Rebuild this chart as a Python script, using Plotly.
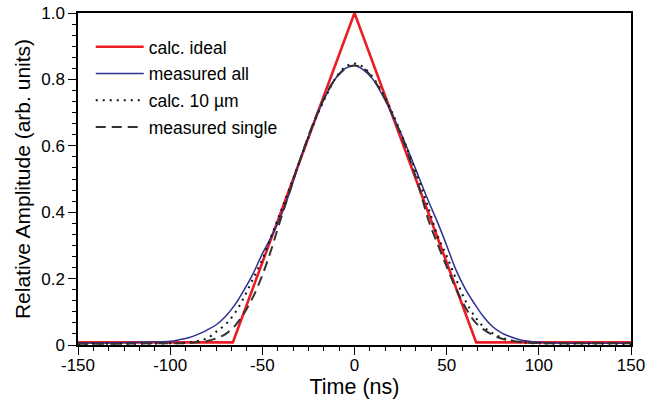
import plotly.graph_objects as go

# ---- data ----
t_ideal = [-150, -66, 0, 66, 150]
v_ideal = [0.008, 0.008, 1.0, 0.008, 0.008]

t_grid = [-150, -130, -110, -100, -95, -90, -85, -80, -75, -70, -65, -60, -55, -50,
          -45, -40, -35, -30, -25, -20, -15, -10, -5, 0, 5, 10, 15, 20, 25, 30, 35,
          40, 45, 50, 55, 60, 65, 70, 75, 80, 85, 90, 95, 100, 110, 130, 150]

v_meas_all = [0.006, 0.007, 0.009, 0.011, 0.016, 0.022, 0.032, 0.045, 0.061, 0.086,
              0.12, 0.165, 0.215, 0.275, 0.327, 0.387, 0.462, 0.551, 0.627, 0.698,
              0.757, 0.805, 0.833, 0.842, 0.828, 0.80, 0.754, 0.70, 0.64, 0.574,
              0.504, 0.435, 0.37, 0.30, 0.227, 0.17, 0.125, 0.085, 0.055, 0.036,
              0.024, 0.015, 0.011, 0.008, 0.006, 0.005, 0.005]

v_calc_10um = [0.003, 0.004, 0.004, 0.005, 0.006, 0.008, 0.012, 0.02, 0.04, 0.062,
               0.095, 0.143, 0.20, 0.258, 0.33, 0.402, 0.475, 0.55, 0.625, 0.695,
               0.755, 0.806, 0.838, 0.848, 0.836, 0.806, 0.762, 0.706, 0.641, 0.57,
               0.495, 0.415, 0.33, 0.268, 0.20, 0.135, 0.088, 0.055, 0.035, 0.022,
               0.014, 0.009, 0.006, 0.005, 0.004, 0.004, 0.003]

v_meas_single = [0.004, 0.004, 0.005, 0.005, 0.005, 0.006, 0.008, 0.012, 0.02, 0.033,
                 0.057, 0.095, 0.145, 0.21, 0.29, 0.38, 0.465, 0.55, 0.63, 0.70,
                 0.76, 0.805, 0.832, 0.842, 0.832, 0.802, 0.758, 0.70, 0.635, 0.56,
                 0.475, 0.378, 0.305, 0.236, 0.17, 0.115, 0.072, 0.047, 0.03, 0.019,
                 0.013, 0.009, 0.007, 0.006, 0.005, 0.005, 0.005]

x_tickvals = [-150, -100, -50, 0, 50, 100, 150]
x_ticktext = ["-150", "-100", "-50", "0", "50", "100", "150"]
y_tickvals = [0, 0.2, 0.4, 0.6, 0.8, 1.0]
y_ticktext = ["0", "0.2", "0.4", "0.6", "0.8", "1.0"]

FONT = "Liberation Sans, Arial, Helvetica, sans-serif"

fig = go.Figure()
fig.add_trace(go.Scatter(x=t_ideal, y=v_ideal, mode="lines", name="calc. ideal",
                         legendgroup="a",
                         line=dict(color="#ec1c24", width=2.6)))
fig.add_trace(go.Scatter(x=t_grid, y=v_meas_all, mode="lines", name="measured all",
                         legendgroup="b", line_shape="spline",
                         line=dict(color="#2e3192", width=1.5)))
fig.add_trace(go.Scatter(x=t_grid, y=v_calc_10um, mode="lines", name="calc. 10 µm",
                         legendgroup="c", line_shape="spline",
                         line=dict(color="#111111", width=2, dash="2px,5px")))
fig.add_trace(go.Scatter(x=t_grid, y=v_meas_single, mode="lines", name="measured single",
                         legendgroup="d", line_shape="spline",
                         line=dict(color="#333333", width=2, dash="10px,6px")))

axis_common = dict(
    showline=True, linecolor="black", linewidth=1.5, mirror=True, automargin=False,
    showgrid=False, zeroline=False, ticks="outside", ticklen=8, tickwidth=1.3,
    tickcolor="black", tickfont=dict(family=FONT, size=17, color="black"),
)

fig.update_xaxes(range=[-150, 150], tickmode="array", tickvals=x_tickvals,
                 ticktext=x_ticktext, ticklabelstandoff=-4,
                 minor=dict(dtick=50 / 6, ticks="outside", ticklen=4,
                            tickwidth=1.2, tickcolor="black"),
                 title=dict(text="Time (ns)", font=dict(family=FONT, size=21.5, color="black"),
                            standoff=3),
                 **axis_common)
fig.update_yaxes(range=[0, 1.0], tickmode="array", tickvals=y_tickvals,
                 ticktext=y_ticktext,
                 minor=dict(dtick=0.2 / 6, ticks="outside", ticklen=4,
                            tickwidth=1.2, tickcolor="black"),
                 title=dict(text="Relative Amplitude (arb. units)",
                            font=dict(family=FONT, size=21, color="black"),
                            standoff=5),
                 **axis_common)

fig.update_layout(
    width=648, height=405,
    margin=dict(l=78, r=17, t=13, b=60, autoexpand=False),
    plot_bgcolor="white", paper_bgcolor="white",
    font=dict(family=FONT, size=16, color="black"),
    legend=dict(x=0.023, y=0.952, xanchor="left", yanchor="top",
                bgcolor="rgba(0,0,0,0)", font=dict(family=FONT, size=17.5),
                tracegroupgap=1, traceorder="grouped", itemwidth=48),
    showlegend=True,
)

# remove the default 8px page margin so the 648x405 figure fills the window exactly
fig.write_html(
    "out.html",
    config={"displayModeBar": False},
    post_script="document.body.style.margin='0';"
                "document.documentElement.style.overflow='hidden';",
)
